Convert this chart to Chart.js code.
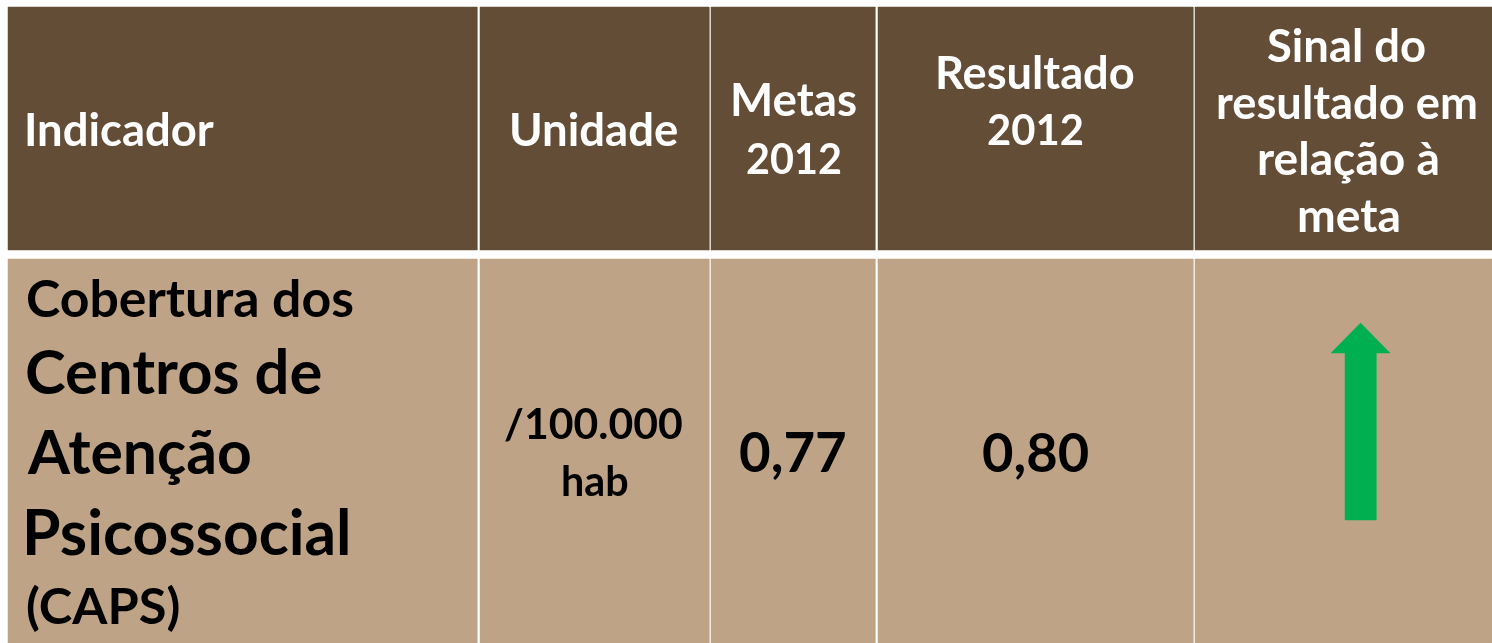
<!DOCTYPE html>
<html>
<head>
<meta charset="utf-8">
<script src="https://cdn.jsdelivr.net/npm/chart.js@4/dist/chart.umd.min.js"></script>
<style>
html,body{margin:0;padding:0;background:#ffffff;}
#wrap{width:1492px;height:643px;position:relative;}
</style>
</head>
<body>
<div id="wrap"><canvas id="c" width="1492" height="643"></canvas></div>
<script>
// ---------- DATA ----------
const headerLines = [
  ['Indicador'],
  ['Unidade'],
  ['Metas', '2012'],
  ['Resultado', '2012'],
  ['Sinal do', 'resultado em', 'relação à', 'meta']
];
const indicatorLines = ['Cobertura dos', 'Centros de', 'Atenção', 'Psicossocial', '(CAPS)'];
const unitLines = ['/100.000', 'hab'];
const meta2012 = [0.77];
const result2012 = [0.80];
const signalDirection = ['up'];

// ---------- LAYOUT (chart units, 1 unit = 1 px) ----------
const colEdges = [[8, 477], [480, 709], [711, 875], [878, 1193], [1195, 1492]];
const rowEdges = [[7, 250], [259, 643]];
const HEADER_BG = '#634d37';
const BODY_BG = '#bea387';
const ARROW_GREEN = '#00b050';
const FONT = 'Lato, "Open Sans", "Noto Sans", sans-serif';

// text boxes: ink left, ink right, baseline (font size is fitted to the ink width)
const headerBoxes = [
  [[27, 213, 146]],
  [[512, 677, 146]],
  [[733, 855, 116], [747, 840, 174]],
  [[938, 1133, 89], [988, 1082, 145]],
  [[1268, 1425, 62], [1218, 1475, 119], [1259, 1437, 175], [1299, 1398, 232]]
];
const indicatorBoxes = [[28, 353, 317], [27, 321, 394], [27, 250, 474], [27, 348, 555], [27, 178, 624]];
const unitBoxes = [[505, 682, 439], [563, 627, 496]];
const metaBox = [740, 845, 472];
const resultBox = [983, 1088, 472];
// arrow geometry
const arrowGeom = {cx: 1360.5, tip: 323, headBase: 353, bottom: 520, headHalf: 29.5, shaftHalf: 15.5};

// ---------- DATASETS ----------
function rectPts(x0, x1, y0, y1) {
  return [{x: x0, y: y0}, {x: x1, y: y0}, {x: x1, y: y1}, {x: x0, y: y1}, {x: x0, y: y0}];
}
const datasets = [];
rowEdges.forEach((r, ri) => {
  colEdges.forEach((c) => {
    const col = ri === 0 ? HEADER_BG : BODY_BG;
    datasets.push({
      data: rectPts(c[0], c[1], r[0], r[1]),
      backgroundColor: col, borderColor: col, borderWidth: 0.5,
      fill: 'shape', pointRadius: 0, tension: 0, order: 2
    });
  });
});
function arrowPts(g, dir) {
  const s = dir === 'up' ? 1 : -1;
  const mid = (g.tip + g.bottom) / 2;
  const fy = (y) => mid + s * (y - mid);
  return [
    {x: g.cx, y: fy(g.tip)},
    {x: g.cx + g.headHalf, y: fy(g.headBase)},
    {x: g.cx + g.shaftHalf, y: fy(g.headBase)},
    {x: g.cx + g.shaftHalf, y: fy(g.bottom)},
    {x: g.cx - g.shaftHalf, y: fy(g.bottom)},
    {x: g.cx - g.shaftHalf, y: fy(g.headBase)},
    {x: g.cx - g.headHalf, y: fy(g.headBase)},
    {x: g.cx, y: fy(g.tip)}
  ];
}
signalDirection.forEach(d => {
  datasets.push({
    data: arrowPts(arrowGeom, d),
    backgroundColor: ARROW_GREEN, borderColor: ARROW_GREEN, borderWidth: 0.5,
    fill: 'shape', pointRadius: 0, tension: 0, order: 0
  });
});

// ---------- TEXT PLUGIN ----------
function fmt(v) { return v.toFixed(2).replace('.', ','); }
const tablePlugin = {
  id: 'tableText',
  afterDatasetsDraw(chart) {
    const ctx = chart.ctx, xs = chart.scales.x, ys = chart.scales.y;
    ctx.save();
    ctx.textAlign = 'left';
    ctx.textBaseline = 'alphabetic';
    function draw(text, box, color) {
      const l = xs.getPixelForValue(box[0]);
      const r = xs.getPixelForValue(box[1]);
      const b = ys.getPixelForValue(box[2]);
      ctx.font = 'bold 100px ' + FONT;
      const m0 = ctx.measureText(text);
      const ink0 = m0.actualBoundingBoxLeft + m0.actualBoundingBoxRight;
      const size = 100 * (r - l) / ink0;
      ctx.font = 'bold ' + size.toFixed(2) + 'px ' + FONT;
      const m = ctx.measureText(text);
      ctx.fillStyle = color;
      ctx.fillText(text, l + m.actualBoundingBoxLeft, b);
    }
    headerLines.forEach((lines, i) => lines.forEach((t, j) => draw(t, headerBoxes[i][j], '#ffffff')));
    indicatorLines.forEach((t, j) => draw(t, indicatorBoxes[j], '#000000'));
    unitLines.forEach((t, j) => draw(t, unitBoxes[j], '#000000'));
    draw(fmt(meta2012[0]), metaBox, '#000000');
    draw(fmt(result2012[0]), resultBox, '#000000');
    ctx.restore();
  }
};

new Chart(document.getElementById('c'), {
  type: 'line',
  data: {datasets},
  options: {
    responsive: false,
    animation: false,
    events: [],
    layout: {padding: 0},
    plugins: {legend: {display: false}, tooltip: {enabled: false}, title: {display: false}},
    scales: {
      x: {type: 'linear', min: 0, max: 1492, display: false},
      y: {type: 'linear', min: 0, max: 643, reverse: true, display: false}
    }
  },
  plugins: [tablePlugin]
});
</script>
</body>
</html>
